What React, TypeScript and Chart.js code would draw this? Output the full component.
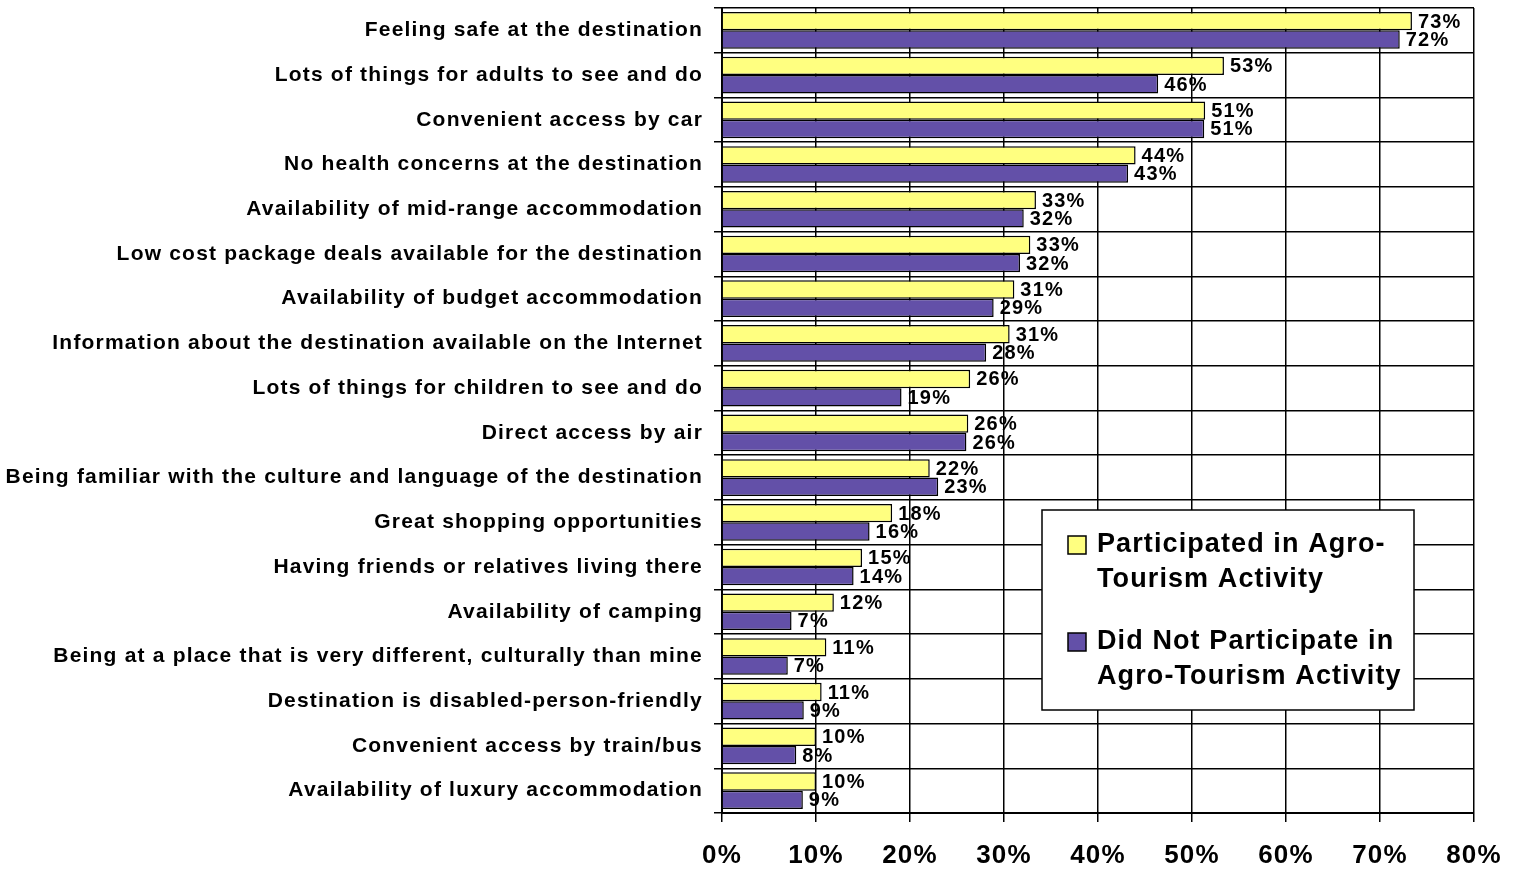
import React, { useEffect, useRef } from "react";
import { Chart, registerables } from "chart.js";

Chart.register(...registerables);

const categories = [
  "Feeling safe at the destination",
  "Lots of things for adults to see and do",
  "Convenient access by car",
  "No health concerns at the destination",
  "Availability of mid-range accommodation",
  "Low cost package deals available for the destination",
  "Availability of budget accommodation",
  "Information about the destination available on the Internet",
  "Lots of things for children to see and do",
  "Direct access by air",
  "Being familiar with the culture and language of the destination",
  "Great shopping opportunities",
  "Having friends or relatives living there",
  "Availability of camping",
  "Being at a place that is very different, culturally than mine",
  "Destination is disabled-person-friendly",
  "Convenient access by train/bus",
  "Availability of luxury accommodation",
];

const participated = [73.4, 53.4, 51.4, 44.0, 33.4, 32.8, 31.1, 30.6, 26.4, 26.2, 22.1, 18.1, 14.9, 11.9, 11.1, 10.6, 10.0, 10.0];
const notParticipated = [72.1, 46.4, 51.3, 43.2, 32.1, 31.7, 28.9, 28.1, 19.1, 26.0, 23.0, 15.7, 14.0, 7.4, 7.0, 8.7, 7.9, 8.6];

const seriesNames = [
  "Participated in Agro-Tourism Activity",
  "Did Not Participate in Agro-Tourism Activity",
];
const legendLines = [
  ["Participated in Agro-", "Tourism Activity"],
  ["Did Not Participate in", "Agro-Tourism Activity"],
];
const xTickValues = [0, 10, 20, 30, 40, 50, 60, 70, 80];

const FONT = "Arial, 'Liberation Sans', sans-serif";
const YELLOW = "#FFFF80";
const PURPLE = "#6350A8";

const spacingPlugin = {
  id: "spacing",
  beforeDraw(chart: any) {
    chart.ctx.letterSpacing = "1.2px";
  },
};

const labelPlugin = {
  id: "barLabels",
  afterDatasetsDraw(chart: any) {
    const ctx = chart.ctx;
    ctx.save();
    ctx.letterSpacing = "1.2px";
    ctx.font = `bold 20px ${FONT}`;
    ctx.fillStyle = "#000";
    ctx.textAlign = "left";
    ctx.textBaseline = "middle";
    chart.data.datasets.forEach((ds: any, di: number) => {
      const meta = chart.getDatasetMeta(di);
      meta.data.forEach((bar: any, i: number) => {
        const v = Math.round(ds.data[i]);
        ctx.fillText(v + "%", bar.x + 6, bar.y + 1);
      });
    });
    ctx.restore();
  },
};

const legendPlugin = {
  id: "boxLegend",
  afterDraw(chart: any) {
    const ctx = chart.ctx;
    const area = chart.chartArea;
    const left = area.left + 320;
    const top = area.top + 502;
    const w = 372;
    const h = 200;
    ctx.save();
    ctx.letterSpacing = "1.1px";
    ctx.fillStyle = "#fff";
    ctx.fillRect(left, top, w, h);
    ctx.strokeStyle = "#000";
    ctx.lineWidth = 1.5;
    ctx.strokeRect(left, top, w, h);
    ctx.font = `bold 27px ${FONT}`;
    ctx.textBaseline = "middle";
    ctx.textAlign = "left";
    const colors = [YELLOW, PURPLE];
    legendLines.forEach((lines, i) => {
      const y0 = top + 35 + i * 97;
      ctx.fillStyle = colors[i];
      ctx.fillRect(left + 26, y0 - 9, 18, 18);
      ctx.strokeStyle = "#000";
      ctx.lineWidth = 1.5;
      ctx.strokeRect(left + 26, y0 - 9, 18, 18);
      ctx.fillStyle = "#000";
      lines.forEach((ln, j) => {
        ctx.fillText(ln, left + 55, y0 + j * 35);
      });
    });
    ctx.restore();
  },
};

export default function App() {
  const ref = useRef<HTMLCanvasElement>(null);
  useEffect(() => {
    if (!ref.current) return;
    const chart = new Chart(ref.current, {
      type: "bar",
      data: {
        labels: categories,
        datasets: [
          {
            label: seriesNames[0],
            data: participated,
            backgroundColor: YELLOW,
            borderColor: "#000",
            borderWidth: 1.5,
            categoryPercentage: 0.82,
            barPercentage: 1.0,
          },
          {
            label: seriesNames[1],
            data: notParticipated,
            backgroundColor: PURPLE,
            borderColor: "#000",
            borderWidth: 1.5,
            categoryPercentage: 0.82,
            barPercentage: 1.0,
          },
        ],
      },
      options: {
        indexAxis: "y",
        animation: false,
        responsive: false,
        maintainAspectRatio: false,
        layout: { padding: { top: 8, right: 42, left: 0, bottom: 0 } },
        plugins: {
          legend: { display: false },
          tooltip: { enabled: false },
        },
        scales: {
          x: {
            min: 0,
            max: 80,
            afterBuildTicks: (s: any) => {
              s.ticks = xTickValues.map((v) => ({ value: v }));
            },
            afterFit: (s: any) => {
              s.height = 56;
              s.paddingLeft = 0;
              s.paddingRight = 0;
            },
            grid: {
              color: "#000",
              lineWidth: 1.5,
              tickLength: 9,
              drawTicks: true,
            },
            border: { color: "#000", width: 2 },
            ticks: {
              padding: 18,
              color: "#000",
              font: { family: FONT, size: 26, weight: "bold" },
              callback: (v: any) => v + "%",
              maxRotation: 0,
            },
          },
          y: {
            afterFit: (s: any) => {
              s.width = 722;
              s.paddingTop = 0;
              s.paddingBottom = 0;
            },
            grid: {
              offset: true,
              color: "#000",
              lineWidth: 1.5,
              tickLength: 8,
            },
            border: { color: "#000", width: 2 },
            ticks: {
              padding: 11,
              color: "#000",
              autoSkip: false,
              font: { family: FONT, size: 21, weight: "bold" },
            },
          },
        },
      },
      plugins: [spacingPlugin, labelPlugin, legendPlugin],
    } as any);
    return () => chart.destroy();
  }, []);
  return (
    <div style={{ position: "fixed", left: 0, top: 0, width: 1516, height: 869, background: "#fff" }}>
      <canvas ref={ref} width={1516} height={869} style={{ display: "block" }} />
    </div>
  );
}
